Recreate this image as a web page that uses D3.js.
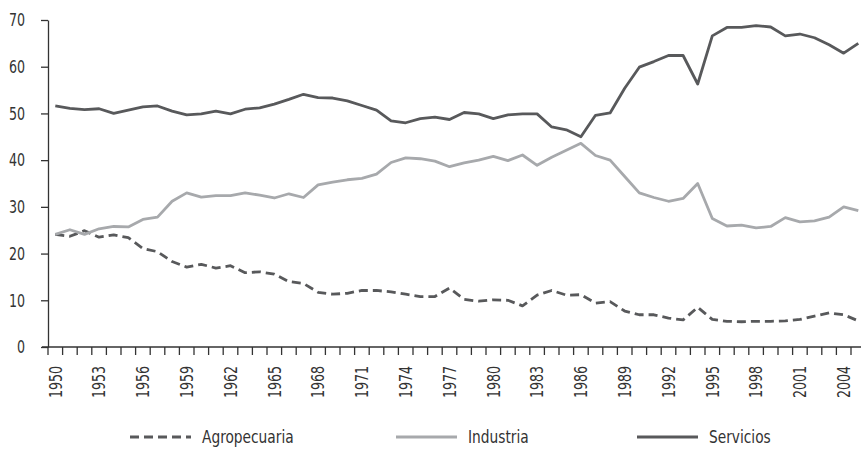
<!DOCTYPE html>
<html>
<head>
<meta charset="utf-8">
<script src="https://cdn.jsdelivr.net/npm/d3@7"></script>
<style>
  body { margin: 0; background: #fff; }
  svg text { font-family: "DejaVu Sans Condensed", "Liberation Sans Narrow", sans-serif; fill: #333; }
</style>
</head>
<body>
<svg id="chart" width="861" height="450"></svg>
<script>
const years = d3.range(1950, 2006);

const agropecuaria = [
  24.1, 23.7, 24.9, 23.5, 24.0, 23.4, 21.1, 20.4, 18.3, 17.1,
  17.7, 16.9, 17.4, 15.9, 16.1, 15.6, 14.0, 13.6, 11.7, 11.3,
  11.5, 12.1, 12.1, 11.8, 11.3, 10.8, 10.8, 12.6, 10.2, 9.8,
  10.1, 10.0, 8.8, 11.1, 12.1, 11.1, 11.2, 9.4, 9.7, 7.7,
  6.9, 6.9, 6.2, 5.8, 8.5, 5.9, 5.5, 5.4, 5.5, 5.5,
  5.6, 5.9, 6.6, 7.3, 6.9, 5.6
];

const industria = [
  24.1, 25.1, 24.1, 25.3, 25.8, 25.7, 27.3, 27.8, 31.2, 33.0,
  32.1, 32.4, 32.4, 33.0, 32.5, 31.9, 32.8, 32.0, 34.7, 35.3,
  35.8, 36.1, 37.0, 39.5, 40.5, 40.3, 39.8, 38.6, 39.4, 40.0,
  40.8, 39.9, 41.1, 38.9, 40.6, 42.1, 43.6, 41.0, 40.0, 36.5,
  33.0, 32.0, 31.2, 31.8, 35.0, 27.5, 25.9, 26.1, 25.5, 25.8,
  27.7, 26.8, 27.0, 27.8, 30.0, 29.2
];

const servicios = [
  51.6, 51.1, 50.8, 51.0, 50.0, 50.7, 51.4, 51.6, 50.5, 49.7,
  49.9, 50.5, 49.9, 50.9, 51.2, 52.0, 53.0, 54.1, 53.4, 53.3,
  52.7, 51.7, 50.7, 48.4, 48.0, 48.9, 49.2, 48.7, 50.2, 49.9,
  48.9, 49.7, 49.9, 49.9, 47.1, 46.5, 45.0, 49.6, 50.1, 55.4,
  59.9, 61.1, 62.4, 62.4, 56.3, 66.6, 68.4, 68.4, 68.8, 68.5,
  66.6, 67.0, 66.2, 64.7, 62.9, 65.0
];

const yTicks = [0, 10, 20, 30, 40, 50, 60, 70];
const labelYears = years.filter(y => (y - 1950) % 3 === 0);

const series = [
  { name: "Agropecuaria", values: agropecuaria, color: "#58595b", dash: "9,5" },
  { name: "Industria", values: industria, color: "#a7a9ac", dash: null },
  { name: "Servicios", values: servicios, color: "#58595b", dash: null },
];

const svg = d3.select("#chart");
const left = 48, bandW = 14.6;
const fontSize = 18;
const squeeze = 0.78; // the original font is a narrow one

const x = d3.scaleBand()
  .domain(years)
  .range([left, left + years.length * bandW])
  .paddingInner(0)
  .paddingOuter(0);

const y = d3.scaleLinear()
  .domain([0, 70])
  .range([347, 20]);

// y axis
const yAxis = svg.append("g")
  .attr("transform", `translate(${left},0)`)
  .call(d3.axisLeft(y).tickValues(yTicks).tickSize(7).tickSizeOuter(0));
yAxis.select(".domain").attr("stroke", "#333").attr("stroke-width", 1.3);
yAxis.selectAll(".tick line").attr("stroke", "#333").attr("stroke-width", 1.3);
yAxis.selectAll(".tick text")
  .attr("x", 0)
  .attr("transform", `translate(-23,0) scale(${squeeze},1)`)
  .attr("font-size", fontSize)
  .attr("font-family", null)
  .attr("fill", "#333");

// x axis (ticks at band boundaries)
const xg = svg.append("g");
xg.append("line")
  .attr("x1", 42).attr("x2", 861)
  .attr("y1", y(0)).attr("y2", y(0))
  .attr("stroke", "#333").attr("stroke-width", 1.3);
xg.selectAll("line.tick")
  .data(years.concat([null]))
  .join("line")
  .attr("class", "tick")
  .attr("x1", d => d === null ? x(2005) + bandW : x(d))
  .attr("x2", d => d === null ? x(2005) + bandW : x(d))
  .attr("y1", y(0)).attr("y2", y(0) + 8)
  .attr("stroke", "#333").attr("stroke-width", 1.3);
xg.selectAll("text")
  .data(labelYears)
  .join("text")
  .attr("transform", d => `translate(${x(d) + x.bandwidth() / 2},366) rotate(-90) scale(${squeeze},1)`)
  .attr("text-anchor", "end")
  .attr("dy", "0.35em")
  .attr("font-size", fontSize)
  .text(d => d);

// lines
const line = d3.line()
  .x((d, i) => x(years[i]) + x.bandwidth() / 2)
  .y(d => y(d));

svg.append("g").selectAll("path")
  .data(series)
  .join("path")
  .attr("fill", "none")
  .attr("stroke", d => d.color)
  .attr("stroke-width", 2.8)
  .attr("stroke-linejoin", "round")
  .attr("stroke-dasharray", d => d.dash)
  .attr("d", d => line(d.values));

// legend
const legendX = [130, 396, 637];
const legend = svg.append("g").selectAll("g")
  .data(series)
  .join("g")
  .attr("transform", (d, i) => `translate(${legendX[i]},437)`);
legend.append("line")
  .attr("x1", 0).attr("x2", 61)
  .attr("stroke", d => d.color)
  .attr("stroke-width", 2.8)
  .attr("stroke-dasharray", d => d.dash);
legend.append("text")
  .attr("transform", "translate(72,0) scale(0.85,1)")
  .attr("dy", "0.35em")
  .attr("font-size", fontSize)
  .text(d => d.name);
</script>
</body>
</html>
